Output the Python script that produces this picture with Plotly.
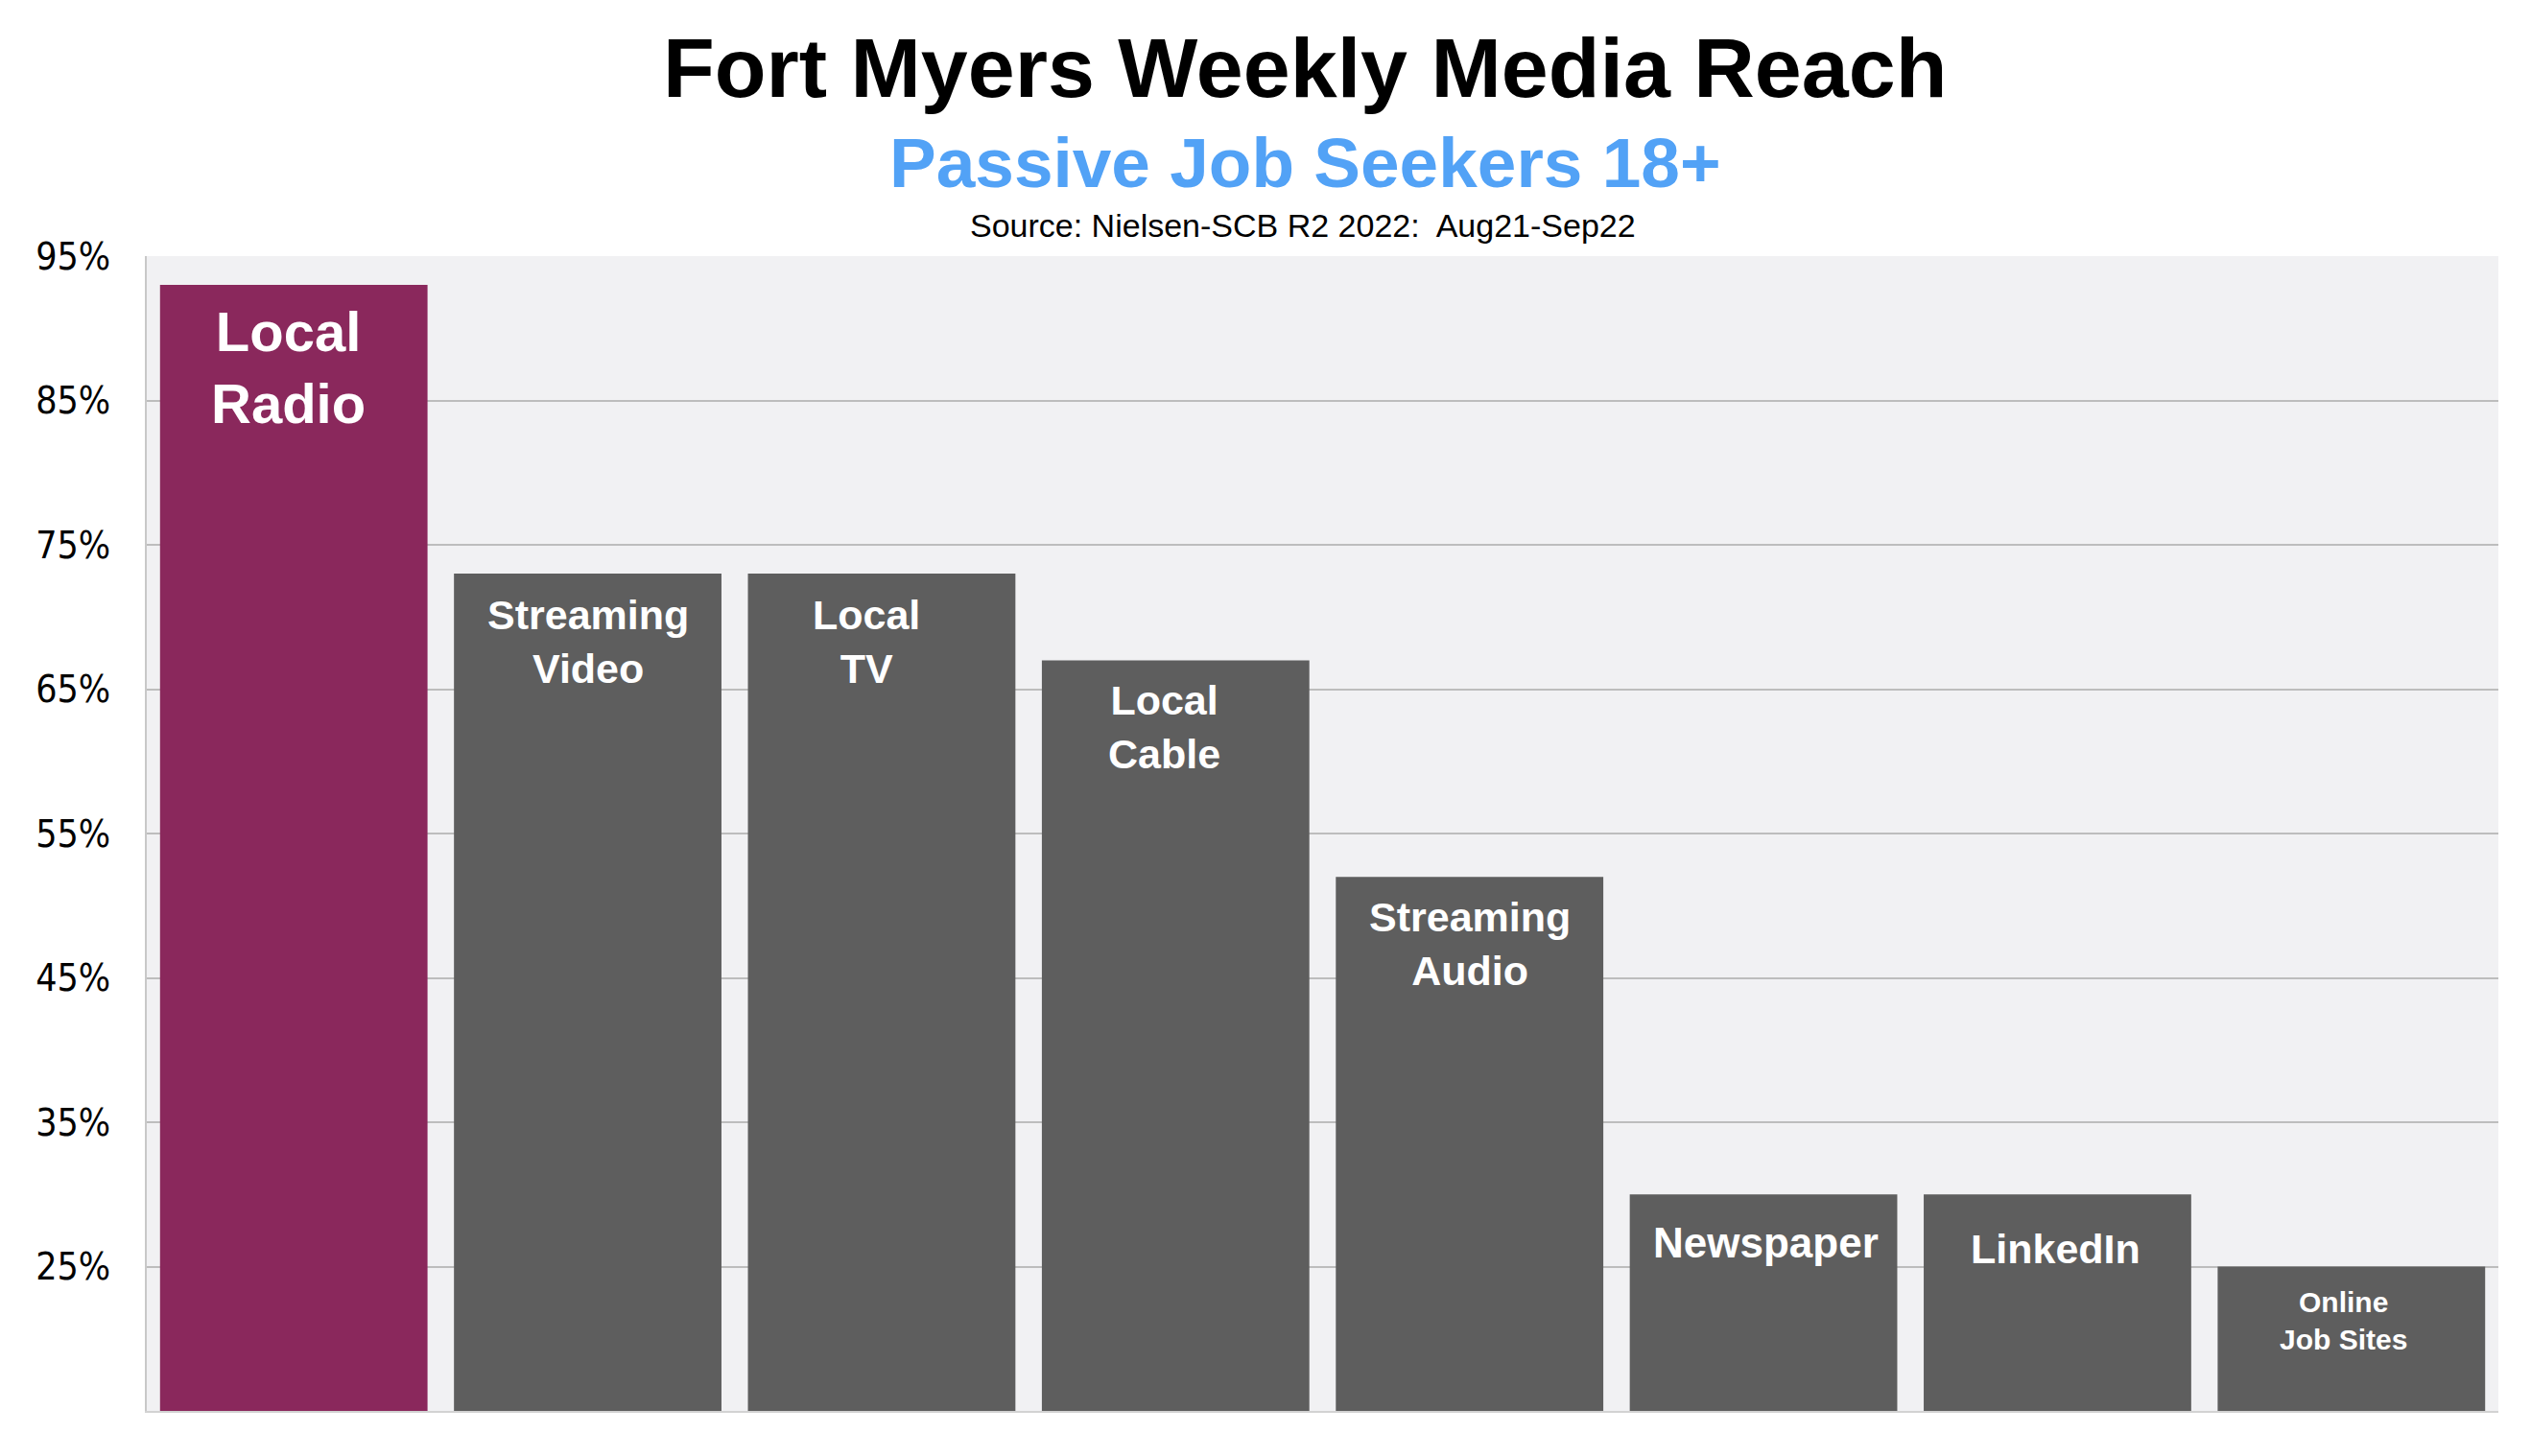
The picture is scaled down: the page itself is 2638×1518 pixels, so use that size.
import plotly.graph_objects as go

# ---- data ----
categories = ["Local Radio", "Streaming Video", "Local TV", "Local Cable",
              "Streaming Audio", "Newspaper", "LinkedIn", "Online Job Sites"]
reach = [93, 73, 73, 67, 52, 30, 30, 25]
bar_labels = ["Local<br>Radio", "Streaming<br>Video", "Local<br>TV", "Local<br>Cable",
              "Streaming<br>Audio", "Newspaper", "LinkedIn", "Online<br>Job Sites"]
tick_values = [25, 35, 45, 55, 65, 75, 85, 95]
tick_labels = ["25%", "35%", "45%", "55%", "65%", "75%", "85%", "95%"]

title_text = "Fort Myers Weekly Media Reach"
subtitle_text = "Passive Job Seekers 18+"
source_text = "Source: Nielsen-SCB R2 2022:\u00a0 Aug21-Sep22"

# ---- styles ----
RADIO = "#8A285C"
GREY = "#5E5E5E"
bar_colors = [RADIO] + [GREY] * (len(categories) - 1)
label_sizes = [58, 43, 43, 43, 43, 44, 43, 30]
label_yshift = [-14, -17, -17, -16, -16, -24, -31, -18]
label_xshift = [-6, 0, -16, -12, 0, 2, -2, -8]

FONT = "Liberation Sans, Arial, Helvetica, sans-serif"
NARROW = "Liberation Sans Narrow, Arial Narrow, DejaVu Sans Condensed, Liberation Sans, sans-serif"

OFF = 8  # page body margin
W, H = 2638, 1518
PL, PR, PT, PB = 153, 2604, 267, 1471  # plot area in page pixels
ML, MT = PL - OFF, PT - OFF
MR = W - (PR - OFF)
MB = H - (PB - OFF)
PW, PH = PR - PL, PB - PT


def px_to_paper_x(px):
    return (px - PL) / PW


def px_to_paper_y(py):
    return (PB - py) / PH


fig = go.Figure()
fig.add_trace(go.Bar(
    x=categories, y=reach,
    marker=dict(color=bar_colors, line=dict(width=0)),
    hoverinfo="skip",
))

annotations = []
for cat, val, lab, fs, ys, xs in zip(categories, reach, bar_labels,
                                     label_sizes, label_yshift, label_xshift):
    annotations.append(dict(
        x=cat, y=val, xref="x", yref="y", text=lab, showarrow=False,
        xanchor="center", yanchor="top", yshift=ys, xshift=xs, align="center",
        font=dict(family=FONT, size=fs, color="white", weight=700),
    ))

annotations.append(dict(
    x=px_to_paper_x(1360), y=px_to_paper_y(70.5), xref="paper", yref="paper",
    text=title_text, showarrow=False, xanchor="center", yanchor="middle",
    font=dict(family=FONT, size=88, color="black", weight=700),
))
annotations.append(dict(
    x=px_to_paper_x(1360), y=px_to_paper_y(169), xref="paper", yref="paper",
    text=subtitle_text, showarrow=False, xanchor="center", yanchor="middle",
    font=dict(family=FONT, size=73, color="#52A2F6", weight=700),
))
annotations.append(dict(
    x=px_to_paper_x(1358), y=px_to_paper_y(235), xref="paper", yref="paper",
    text=source_text, showarrow=False, xanchor="center", yanchor="middle",
    font=dict(family=FONT, size=34, color="black"),
))

fig.update_layout(
    width=W, height=H,
    margin=dict(l=ML, r=MR, t=MT, b=MB, autoexpand=False),
    paper_bgcolor="white",
    plot_bgcolor="#F1F1F3",
    bargap=0.09,
    showlegend=False,
    annotations=annotations,
    xaxis=dict(
        type="category", showticklabels=False, showgrid=False, zeroline=False,
        showline=True, linecolor="#D2D2D2", linewidth=2, ticks="",
    ),
    yaxis=dict(
        range=[15, 95], tickmode="array", tickvals=tick_values, ticktext=tick_labels,
        showgrid=True, gridcolor="#BDBDBD", gridwidth=2, zeroline=False,
        showline=True, linecolor="#C8C8C8", linewidth=2, ticks="",
        ticklabelstandoff=28,
        tickfont=dict(family=NARROW, size=39, color="black"),
    ),
)

fig.write_html("out.html")
